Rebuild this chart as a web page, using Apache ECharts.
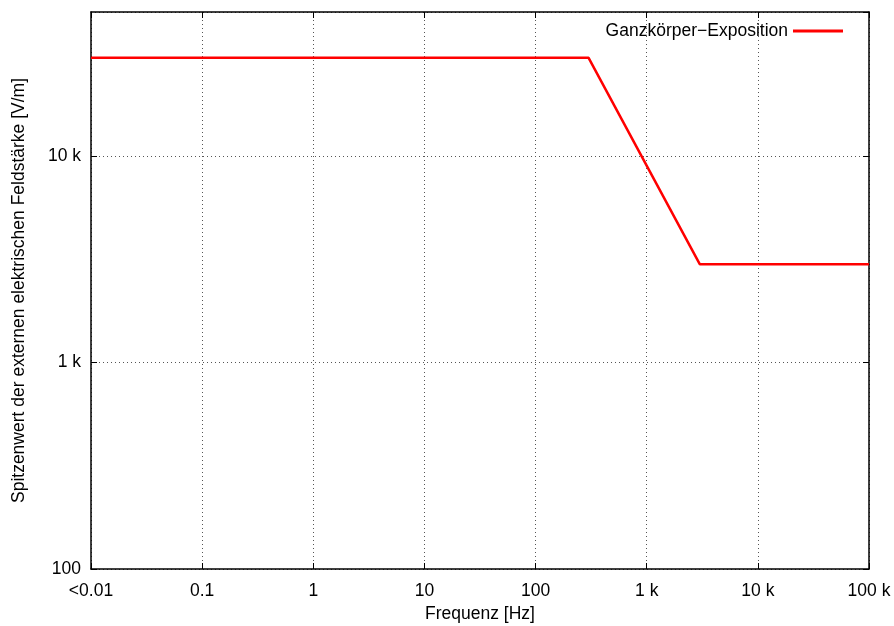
<!DOCTYPE html>
<html>
<head>
<meta charset="utf-8">
<script src="https://cdn.jsdelivr.net/npm/echarts@6/dist/echarts.min.js"></script>
<style>
  html, body { margin: 0; padding: 0; background: #fff; }
  #chart { width: 894px; height: 626px; }
</style>
</head>
<body>
<div id="chart"></div>
<script>
// Daten: Frequenz [Hz] und Spitzenwert [V/m]
const freq = [0.01, 300, 3000, 100000]
const feld = [30000, 30000, 3000, 3000]
const seriesName = 'Ganzkörper−Exposition'

const xTickLabels = { 0.01: '<0.01', 0.1: '0.1', 1: '1', 10: '10', 100: '100', 1000: '1 k', 10000: '10 k', 100000: '100 k' }
const yTickLabels = { 100: '100', 1000: '1 k', 10000: '10 k' }

const font = 'Liberation Sans, Arial, sans-serif'
const fs = 17.5

function isDecade(v) {
  const l = Math.log10(v)
  return Math.abs(l - Math.round(l)) < 1e-6
}

const baseX = {
  type: 'log',
  logBase: 10,
  min: 0.01,
  max: 100000,
  axisLine: { show: true, onZero: false, lineStyle: { color: '#000', width: 1.5 } },
  axisTick: { show: true, inside: true, length: 6, lineStyle: { color: '#000', width: 1 } },
  minorTick: { show: false },
  splitLine: { show: false }
}
const baseY = {
  type: 'log',
  logBase: 10,
  min: 100,
  max: 50000,
  axisLine: { show: true, onZero: false, lineStyle: { color: '#000', width: 1.5 } },
  axisTick: { show: true, inside: true, length: 6, lineStyle: { color: '#000', width: 1 } },
  splitLine: { show: false }
}

const chart = echarts.init(document.getElementById('chart'))
chart.setOption({
  animation: false,
  textStyle: { fontFamily: font },
  grid: { left: 91, right: 25, top: 12, bottom: 57, containLabel: false, outerBoundsMode: 'none' },
  legend: {
    data: [seriesName],
    right: 46,
    top: 17,
    align: 'right',
    icon: 'rect',
    itemWidth: 50,
    itemHeight: 3,
    itemGap: 10,
    textStyle: { fontFamily: font, fontSize: fs, color: '#000' }
  },
  xAxis: [
    Object.assign({}, baseX, {
      position: 'bottom',
      name: 'Frequenz [Hz]',
      nameLocation: 'middle',
      nameGap: 34,
      nameTextStyle: { fontFamily: font, fontSize: fs, color: '#000' },
      axisLabel: {
        color: '#000', fontSize: fs, margin: 13, fontFamily: font,
        showMinLabel: true, showMaxLabel: true,
        formatter: v => (isDecade(v) ? (xTickLabels[Math.round(v * 100) / 100] || '') : '')
      },
      splitLine: { show: true, lineStyle: { color: '#555', type: [1, 3], width: 1 } }
    }),
    Object.assign({}, baseX, { position: 'top', axisLabel: { show: false } })
  ],
  yAxis: [
    Object.assign({}, baseY, {
      position: 'left',
      name: 'Spitzenwert der externen elektrischen Feldstärke [V/m]',
      nameLocation: 'middle',
      nameGap: 63,
      nameTextStyle: { fontFamily: font, fontSize: fs, color: '#000' },
      axisLabel: {
        color: '#000', fontSize: fs, margin: 10, fontFamily: font,
        showMaxLabel: false,
        formatter: v => (isDecade(v) ? (yTickLabels[Math.round(v)] || '') : '')
      },
      splitLine: { show: true, lineStyle: { color: '#555', type: [1, 3], width: 1 } }
    }),
    Object.assign({}, baseY, { position: 'right', axisLabel: { show: false } })
  ],
  series: [
    {
      name: seriesName,
      type: 'line',
      xAxisIndex: 0,
      yAxisIndex: 0,
      data: freq.map((f, i) => [f, feld[i]]),
      showSymbol: false,
      lineStyle: { color: '#ff0000', width: 2.5 },
      itemStyle: { color: '#ff0000' }
    }
  ]
})
</script>
</body>
</html>
